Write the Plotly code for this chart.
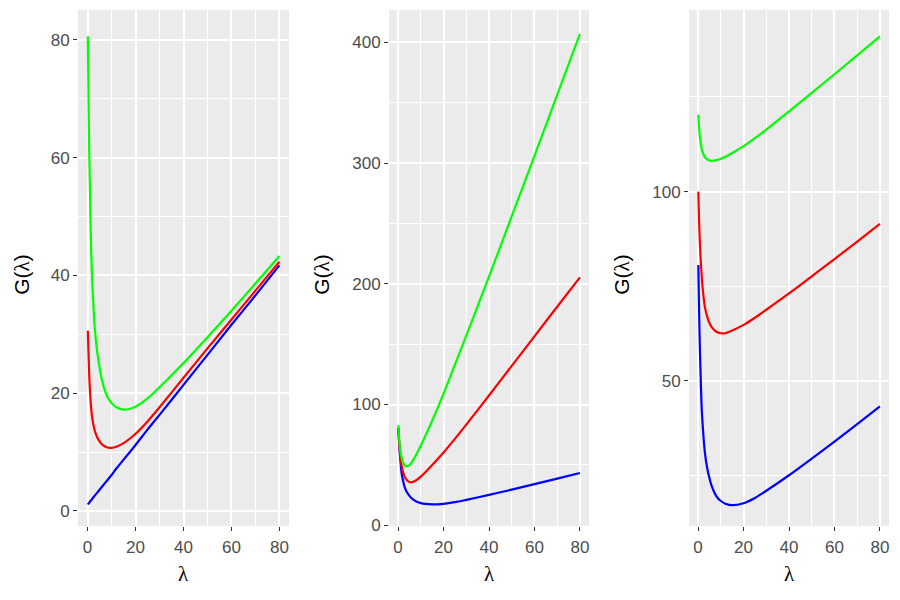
import plotly.graph_objects as go

# lambda grid (shared by all curves)
lam = [0.1, 0.25, 0.5, 0.75, 1, 1.5, 2, 3, 4, 5, 6, 8, 10, 12, 15, 20, 25, 30, 40, 50, 60, 70, 80]

# Panel 1
p1_blue = [1.1, 1.2, 1.3, 1.4, 1.6, 1.8, 2.1, 2.6, 3.1, 3.6, 4.1, 5.1, 6.1, 7.2, 8.7, 11.2, 13.8, 16.3, 21.4, 26.5, 31.6, 36.6, 41.7]
p1_red = [30.6, 28.5, 25.2, 22.4, 20.3, 17.4, 15.6, 13.6, 12.5, 11.8, 11.3, 10.8, 10.7, 10.9, 11.5, 13.1, 15.2, 17.6, 22.6, 27.6, 32.5, 37.4, 42.3]
p1_green = [80.6, 75.0, 66.5, 59.5, 54.0, 44.0, 38.5, 31.0, 27.0, 24.3, 22.2, 19.6, 18.3, 17.6, 17.2, 17.7, 19.1, 21.0, 25.1, 29.5, 34.0, 38.6, 43.3]

# Panel 2
p2_blue = [80.6, 75.0, 66.5, 59.5, 54.0, 44.0, 38.5, 31.0, 27.0, 24.3, 22.2, 19.6, 18.3, 17.6, 17.2, 17.7, 19.1, 21.0, 25.1, 29.5, 34.0, 38.6, 43.3]
p2_red = [80.5, 76.0, 68.0, 62.0, 57.0, 50.0, 45.3, 39.8, 37.0, 35.8, 35.6, 37.3, 40.3, 43.8, 49.8, 60.3, 71.5, 83.3, 107.5, 132.0, 156.5, 181.0, 205.3]
p2_green = [82.8, 78.0, 71.0, 66.0, 62.0, 56.5, 52.8, 49.3, 48.7, 49.8, 52.0, 58.5, 66.0, 74.0, 86.5, 109.0, 133.0, 157.0, 206.0, 256.0, 306.0, 356.5, 407.0]

# Panel 3
p3_blue = [80.6, 75.0, 66.5, 59.5, 54.0, 44.0, 38.5, 31.0, 27.0, 24.3, 22.2, 19.6, 18.3, 17.6, 17.2, 17.7, 19.1, 21.0, 25.1, 29.5, 34.0, 38.6, 43.3]
p3_red = [100.0, 96.5, 91.0, 87.0, 83.5, 78.5, 74.5, 69.5, 67.0, 65.3, 64.2, 63.0, 62.6, 62.6, 63.3, 64.8, 66.7, 68.8, 73.1, 77.6, 82.2, 86.8, 91.5]
p3_green = [120.3, 118.8, 116.5, 114.8, 113.5, 111.6, 110.4, 109.1, 108.5, 108.2, 108.1, 108.3, 108.7, 109.2, 110.2, 112.0, 114.1, 116.4, 121.2, 126.1, 131.0, 136.0, 141.0]

panels = [
    (p1_blue, p1_red, p1_green),
    (p2_blue, p2_red, p2_green),
    (p3_blue, p3_red, p3_green),
]
colors = ["#0000FF", "#FF0000", "#00FF00"]

x_domains = [[78 / 900, 289 / 900], [389 / 900, 589 / 900], [689 / 900, 889 / 900]]
y_domain = [1 - 534 / 600, 1 - 10 / 600]
y_ranges = [[-2.56, 85.08], [-0.65, 427.0], [11.7, 148.0]]
y_major = [20, 100, 50]
y_minor = [10, 50, 25]

fig = go.Figure()
for i, series in enumerate(panels):
    xa = "x" if i == 0 else f"x{i+1}"
    ya = "y" if i == 0 else f"y{i+1}"
    for vals, col in zip(series, colors):
        fig.add_trace(go.Scatter(x=lam, y=vals, mode="lines", xaxis=xa, yaxis=ya,
                                 line=dict(color=col, width=2.2, shape="spline", smoothing=0.8),
                                 showlegend=False, hoverinfo="skip"))

tickfont = dict(family="Liberation Sans, Arial, sans-serif", size=17, color="#4D4D4D")
layout = dict(
    width=900, height=600, autosize=False,
    margin=dict(l=0, r=0, t=0, b=0),
    paper_bgcolor="white", plot_bgcolor="#EBEBEB",
    showlegend=False,
)
for i in range(3):
    sx = "" if i == 0 else str(i + 1)
    layout["xaxis" + sx] = dict(
        domain=x_domains[i], anchor="y" + sx, range=[-4, 84],
        tickmode="linear", tick0=0, dtick=20,
        showgrid=True, gridcolor="white", gridwidth=1.5,
        minor=dict(tick0=10, dtick=20, showgrid=True, gridcolor="white", gridwidth=0.75),
        zeroline=False, showline=False,
        ticks="outside", ticklen=4, tickwidth=1.3, tickcolor="#333333",
        tickfont=tickfont, ticklabelstandoff=2,
    )
    layout["yaxis" + sx] = dict(
        domain=y_domain, anchor="x" + sx, range=y_ranges[i],
        tickmode="linear", tick0=0, dtick=y_major[i],
        showgrid=True, gridcolor="white", gridwidth=1.5,
        minor=dict(tick0=y_minor[i], dtick=y_major[i], showgrid=True, gridcolor="white", gridwidth=0.75),
        zeroline=False, showline=False,
        ticks="outside", ticklen=4, tickwidth=1.3, tickcolor="#333333",
        tickfont=tickfont,
    )
fig.update_layout(**layout)

titlefont = dict(family="Liberation Sans, Arial, sans-serif", size=21, color="black")
lam_html = "<span style='font-family:Liberation Serif, DejaVu Serif, serif'>λ</span>"
for i in range(3):
    cx = (x_domains[i][0] + x_domains[i][1]) / 2
    fig.add_annotation(x=cx, y=1 - 583 / 600, xref="paper", yref="paper",
                       text=lam_html, showarrow=False, font=titlefont,
                       xanchor="center", yanchor="middle")
    fig.add_annotation(x=(22 + 300 * i) / 900, y=1 - 279 / 600,
                       xref="paper", yref="paper", text="G(" + lam_html + ")", textangle=-90,
                       showarrow=False, font=titlefont, xanchor="center", yanchor="middle")

fig.write_html("out.html")
